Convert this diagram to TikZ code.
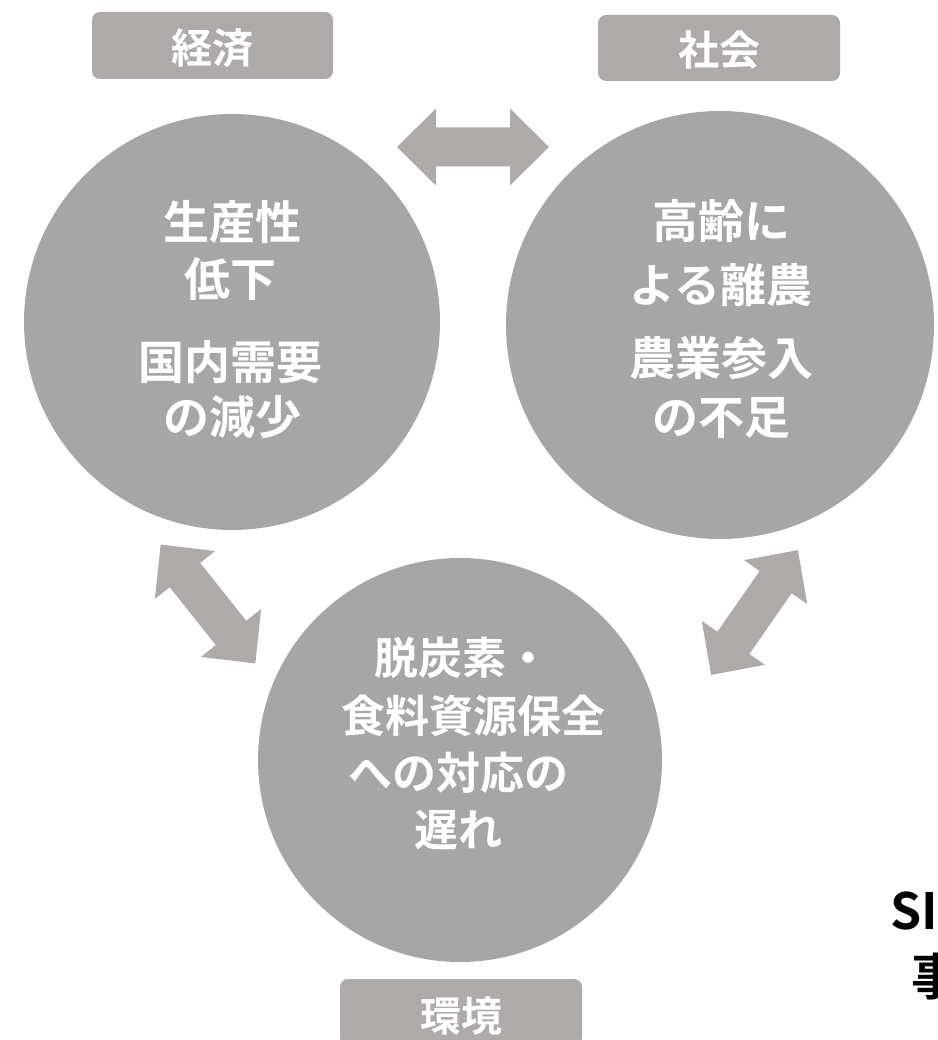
\documentclass[tikz,border=0pt]{standalone}
\usepackage{fontspec}
\newfontfamily\jp{Noto Sans CJK JP Bold}
\definecolor{circgray}{HTML}{A6A6A6}
\definecolor{boxgray}{HTML}{AEAAAA}
\begin{document}
\begin{tikzpicture}[x=1pt,y=-1pt,
  circ/.style={circle,fill=circgray,inner sep=0pt},
  lbl/.style={fill=boxgray,rounded corners=8pt,inner sep=0pt},
  ctext/.style={text=white,font=\jp\fontsize{46}{46}\selectfont,anchor=base,inner sep=0pt},
  ctextb/.style={text=white,font=\jp\fontsize{44}{44}\selectfont,anchor=base,inner sep=0pt},
  ltext/.style={text=white,font=\jp\fontsize{41}{41}\selectfont,anchor=base,inner sep=0pt},
  btext/.style={text=black,font=\jp\fontsize{50}{50}\selectfont,anchor=base west,inner sep=0pt},
  blockarrow/.style={fill=boxgray}]
\useasboundingbox (0,0) rectangle (937,1040);
\clip (0,0) rectangle (937,1040);
% label boxes
\fill[lbl] (92,12) rectangle (333,79);
\fill[lbl] (598,15) rectangle (840,81);
\fill[lbl] (340,979) rectangle (582,1046);
\node[ltext] (econ) at (212,64) {経済};
\node[ltext] (soc) at (719,66) {社会};
\node[ltext] (env) at (461,1031) {環境};
% circles
\node[circ,minimum size=416pt] (c1) at (232,322) {};
\node[circ,minimum size=428pt] (c2) at (720,325) {};
\node[circ,minimum size=404pt] (c3) at (460,760) {};
% block arrows
\newcommand{\dblarrow}[3]{\fill[blockarrow,shift={(#1,#2)},rotate=#3]
  (-76,0) -- (-37,38.5) -- (-37,19.5) -- (37,19.5) -- (37,38.5) -- (76,0)
  -- (37,-38.5) -- (37,-19.5) -- (-37,-19.5) -- (-37,-38.5) -- cycle;}
\dblarrow{473}{147}{0}
\dblarrow{208}{604}{-51.5}
\dblarrow{754.5}{612.5}{55.2}
% circle texts
\node[ctext] (t11) at (232,240) {生産性};
\node[ctext] (t12) at (230,297) {低下};
\node[ctext] (t13) at (230,379) {国内需要};
\node[ctext] (t14) at (232,434) {の減少};
\node[ctext] (t21) at (721,239) {高齢に};
\node[ctext] (t22) at (721,302) {よる離農};
\node[ctext] (t23) at (721,375) {農業参入};
\node[ctext] (t24) at (721,434) {の不足};
\node[ctextb] (t31) at (462,674) {脱炭素・};
\node[ctextb] (t32) at (473,732) {食料資源保全};
\node[ctextb] (t33) at (458,789) {への対応の};
\node[ctextb] (t34) at (458,846) {遅れ};
% cut-off text at right
\node[btext] (s1) at (890,929) {SI};
\node[btext] (s2) at (911,995) {事};
\end{tikzpicture}
\end{document}
